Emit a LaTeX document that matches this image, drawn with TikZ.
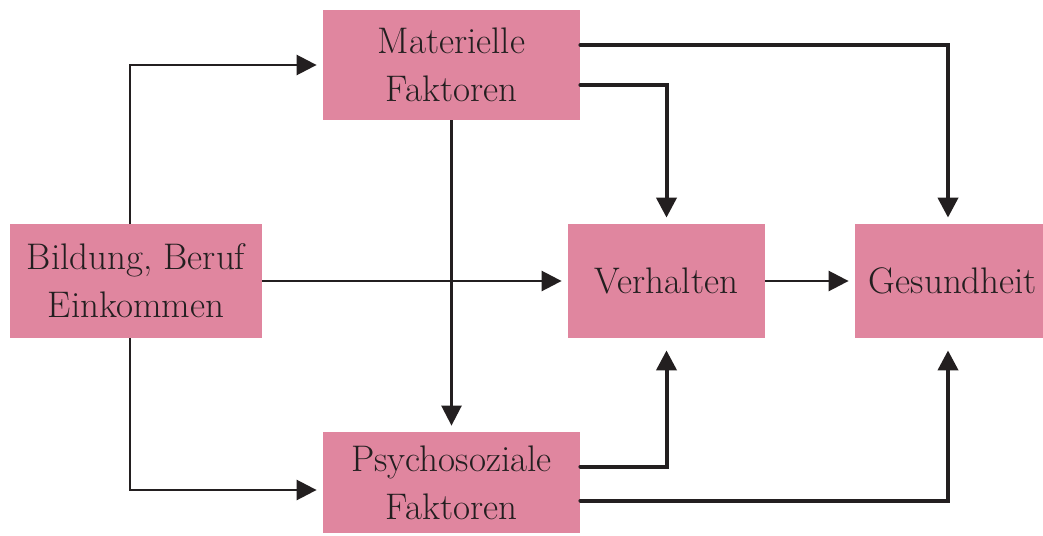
\documentclass[tikz,border=0pt]{standalone}
\usetikzlibrary{arrows.meta}
\definecolor{rosa}{RGB}{224,134,159}
\definecolor{schrift}{RGB}{35,31,32}

\begin{document}
\begin{tikzpicture}[x=0.5pt, y=-0.5pt, schrift,
    kasten/.style={fill=rosa, draw=none, align=center, inner sep=0pt,
        font=\fontsize{18.5}{24}\selectfont},
    pfeil/.style={line width=1.3pt, -{Triangle[length=10pt,width=10pt]}, shorten >=3pt},
    dickpfeil/.style={pfeil, line width=2pt, line cap=round}]
    \useasboundingbox (0,0) rectangle (1043,535);
    \clip (0,0) rectangle (1043,535);

    \node[kasten, minimum width=126pt, minimum height=57pt] (bil) at (136,281) {Bildung, Beruf\\Einkommen};
    \node[kasten, minimum width=128.5pt, minimum height=55pt] (mat) at (451.5,65) {Materielle\\Faktoren};
    \node[kasten, minimum width=128.5pt, minimum height=50.5pt] (psy) at (451.5,482.5) {Psychosoziale\\Faktoren};
    \node[kasten, minimum width=98.5pt, minimum height=57pt] (ver) at (666.5,281) {Verhalten};
    \node[kasten, minimum width=98pt, minimum height=57pt] (ges) at (953,281) {Gesundheit};

    \draw[pfeil] ([xshift=-3pt]bil.north) |- (mat.west);
    \draw[pfeil] ([xshift=-3pt]bil.south) |- ([yshift=-3.75pt]psy.west);
    \draw[pfeil] (bil.east) -- (ver.west);
    \draw[pfeil] (ver.east) -- (ges.west);
    \draw[pfeil] (mat.south) -- (psy.north);

    % dicke Linien rechts
    \draw[dickpfeil] ([yshift=10pt]mat.east) -| ([xshift=-2.5pt]ges.north);
    \draw[dickpfeil] ([yshift=-10pt]mat.east) -| (ver.north);
    \draw[dickpfeil, shorten >=6pt] ([yshift=8pt]psy.east) -| (ver.south);
    \draw[dickpfeil, shorten >=6pt] ([yshift=-9pt]psy.east) -| ([xshift=-2.5pt]ges.south);

\end{tikzpicture}
\end{document}
